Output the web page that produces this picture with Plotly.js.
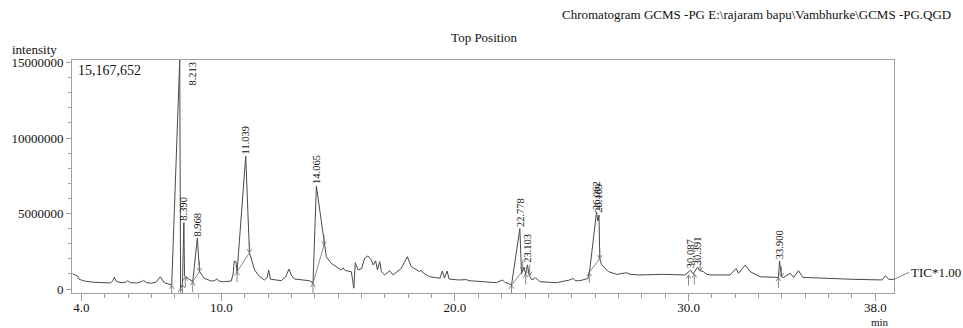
<!DOCTYPE html>
<html>
<head>
<meta charset="utf-8">
<script src="https://cdn.plot.ly/plotly-3.0.1.min.js"></script>
<style>html,body{margin:0;padding:0;background:#fff;}#chart{width:963px;height:328px;}</style>
</head>
<body>
<div id="chart"></div>
<script>
// Retention time (min) and TIC intensity (millions of counts)
var retentionTime = [3.62,3.75,3.84,3.91,4.13,4.5,4.98,5.25,5.35,5.41,5.5,5.7,5.9,5.98,6.1,6.4,6.6,6.66,6.8,6.98,7.2,7.38,7.55,7.87,
  8.213,8.25,8.33,8.39,8.42,8.6,8.77,8.968,9.06,9.27,9.56,9.72,9.8,9.9,10.06,10.42,10.5,10.55,10.62,10.67,11.039,11.2,11.42,11.63,
  11.84,11.96,12.02,12.1,12.56,12.75,12.89,13.0,13.13,13.77,13.92,14.065,14.35,14.49,14.7,14.92,15.13,15.2,15.3,15.56,15.67,15.73,
  15.85,16.0,16.13,16.27,16.42,16.5,16.6,16.68,16.78,16.85,16.99,17.2,17.35,17.7,17.96,18.13,18.49,18.55,18.65,18.92,19.35,19.46,
  19.55,19.66,19.75,20.14,20.5,20.6,21.06,21.78,22.04,22.15,22.28,22.42,22.778,22.85,22.95,23.03,23.103,23.18,23.3,23.45,23.64,
  24.35,24.92,25.06,25.15,25.35,25.7,25.78,26.062,26.115,26.169,26.2,26.28,26.42,26.57,26.93,27.07,27.35,27.5,27.92,28.92,29.85,
  30.087,30.2,30.391,30.5,30.64,30.75,30.93,31.78,32.04,32.14,32.43,32.64,33.07,33.64,33.85,33.9,33.98,34.07,34.36,34.5,34.71,34.9,
  35.64,37.07,38.29,38.43,38.57,38.8];
var intensityM = [1.00,0.92,0.86,0.64,0.53,0.45,0.40,0.40,0.55,0.77,0.50,0.42,0.45,0.55,0.42,0.40,0.50,0.57,0.42,0.38,0.45,0.81,0.42,0.26,
  15.17,0.05,0.30,4.40,0.86,0.65,0.49,3.38,1.15,0.70,0.53,0.55,0.68,0.52,0.48,0.53,1.00,1.85,1.80,1.15,8.80,2.40,1.26,0.82,
  0.60,0.75,1.26,0.65,0.55,0.80,1.32,0.90,0.66,0.55,0.38,6.82,3.46,2.14,1.70,1.48,1.26,1.40,1.22,1.15,0.05,1.74,
  1.26,1.35,2.03,2.19,1.92,1.59,1.87,1.26,1.81,1.15,0.93,1.21,0.93,1.37,2.14,1.48,1.15,1.25,1.05,0.81,0.71,1.19,
  0.72,1.19,0.66,0.60,0.62,0.55,0.48,0.42,0.60,0.42,0.38,0.26,4.00,1.00,1.45,1.00,1.60,0.90,0.60,0.75,0.48,
  0.42,0.60,0.70,0.55,0.55,0.70,1.37,5.10,4.50,4.90,2.00,1.60,1.37,1.15,0.97,1.00,1.08,0.97,0.93,0.97,0.93,
  1.25,1.00,1.45,1.20,1.15,1.00,0.93,0.93,1.37,1.04,1.59,1.15,0.81,0.77,0.77,1.85,0.80,0.77,1.04,0.77,1.21,0.77,
  0.71,0.64,0.60,0.88,0.64,0.64];

// Labelled peaks
var peakTimes = [8.213,8.390,8.968,11.039,14.065,22.778,23.103,26.062,26.169,30.087,30.391,33.900];
var peakLabels = ["8.213","8.390","8.968","11.039","14.065","22.778","23.103","26.062","26.169","30.087","30.391","33.900"];
var peakHeightM = [15.17,4.40,3.38,8.80,6.82,4.00,1.60,5.10,4.90,1.25,1.45,1.85];

// Integration boundaries (time, intensity M, direction: 1 = mark from below, -1 = mark from above)
var boundT = [7.87,8.25,8.33,8.45,8.77,9.06,10.67,11.2,13.92,14.39,22.42,22.9,23.03,23.2,25.75,26.2,30.0,30.25,30.5,33.85,33.98];
var boundV = [0.26,0.05,0.30,0.80,0.49,1.15,1.15,2.40,0.38,2.90,0.26,1.20,1.00,0.90,1.10,2.00,0.93,1.00,1.20,0.77,0.80];
var boundDir = [1,1,1,1,1,-1,1,-1,1,-1,1,-1,1,-1,1,-1,1,1,-1,1,-1];
// Tangent baselines: pairs of boundary indices
var baseStart = [4,6,8,10,14];
var baseEnd = [5,7,9,11,15];

var M = 1e6;
var fontFam = '"Liberation Serif", "Times New Roman", serif';
var labelSize = 10.5;

var traceY = intensityM.map(function(v){return v*M;});

var mx = [], my = [];
for (var i = 0; i < boundT.length; i++) {
  var t = boundT[i], v = boundV[i]*M, d = boundDir[i];
  mx.push(t, t, null, t-0.1, t, t+0.1, null);
  my.push(v, v - d*0.7*M, null, v - d*0.25*M, v, v - d*0.25*M, null);
}
var bx = [], by = [];
for (var j = 0; j < baseStart.length; j++) {
  bx.push(boundT[baseStart[j]], boundT[baseEnd[j]], null);
  by.push(boundV[baseStart[j]]*M, boundV[baseEnd[j]]*M, null);
}

var data = [
  {x: retentionTime, y: traceY, type: 'scatter', mode: 'lines', line: {color: '#4a4a4a', width: 1}, hoverinfo: 'x+y'},
  {x: bx, y: by, type: 'scatter', mode: 'lines', line: {color: '#6a6a6a', width: 0.8}, hoverinfo: 'skip'},
  {x: mx, y: my, type: 'scatter', mode: 'lines', line: {color: '#6a6a6a', width: 0.8}, hoverinfo: 'skip', cliponaxis: false}
];

function labelLen(s) {
  var n = 0;
  for (var c = 0; c < s.length; c++) n += (s[c] === '.') ? 0.25 : 0.5;
  return n * labelSize;
}

var annotations = [];
for (var k = 0; k < peakTimes.length; k++) {
  var atTop = peakHeightM[k] > 14;
  var half = labelLen(peakLabels[k]) / 2;
  annotations.push({
    x: peakTimes[k], y: peakHeightM[k]*M, xref: 'x', yref: 'y',
    text: peakLabels[k], showarrow: false, textangle: -90,
    xanchor: 'center', yanchor: 'middle',
    xshift: atTop ? 13 : 0, yshift: atTop ? -(half + 2) : (half + 2),
    font: {family: fontFam, size: labelSize, color: '#111'}
  });
}
annotations.push(
  {xref: 'paper', yref: 'paper', x: 1.0718, y: 1.197, xanchor: 'right', yanchor: 'middle', showarrow: false,
   text: 'Chromatogram GCMS -PG E:\\rajaram bapu\\Vambhurke\\GCMS -PG.QGD', font: {family: fontFam, size: 13, color: '#111'}},
  {xref: 'paper', yref: 'paper', x: -0.0754, y: 1.043, xanchor: 'left', yanchor: 'middle', showarrow: false,
   text: 'intensity', font: {family: fontFam, size: 13, color: '#111'}},
  {xref: 'paper', yref: 'paper', x: 0.005, y: 0.955, xanchor: 'left', yanchor: 'middle', showarrow: false,
   text: '15,167,652', font: {family: fontFam, size: 14, color: '#111'}},
  {xref: 'paper', yref: 'paper', x: 0.983, y: -0.124, xanchor: 'center', yanchor: 'middle', showarrow: false,
   text: 'min', font: {family: fontFam, size: 11, color: '#111'}},
  {xref: 'x', yref: 'y', x: 38.8, y: 0.64*M, text: 'TIC*1.00', showarrow: true, arrowhead: 0, arrowwidth: 0.8,
   arrowcolor: '#666', ax: 15, ay: -7, xanchor: 'left', yanchor: 'middle', standoff: 0,
   font: {family: fontFam, size: 13, color: '#111'}}
);

var layout = {
  width: 963, height: 328,
  margin: {l: 72, r: 69, t: 60, b: 35, pad: 0},
  paper_bgcolor: '#fff', plot_bgcolor: '#fff',
  showlegend: false,
  font: {family: fontFam, size: 13, color: '#111'},
  title: {text: 'Top Position', x: 0.5013, xref: 'paper', y: 0.887, yref: 'container', xanchor: 'center', yanchor: 'middle',
          font: {family: fontFam, size: 13, color: '#111'}},
  xaxis: {
    range: [3.6, 38.8], showgrid: false, zeroline: false,
    showline: true, linecolor: '#a0a0a0', linewidth: 1, mirror: true,
    tickmode: 'array', tickvals: [4, 10, 20, 30, 38], ticktext: ['4.0', '10.0', '20.0', '30.0', '38.0'],
    ticks: 'outside', ticklen: 7, tickcolor: '#a0a0a0', tickwidth: 1, ticklabelstandoff: -5,
    minor: {tickmode: 'linear', tick0: 0, dtick: 1, ticks: 'outside', ticklen: 4, tickcolor: '#a0a0a0', tickwidth: 1},
    tickfont: {family: fontFam, size: 13, color: '#111'}
  },
  yaxis: {
    range: [-0.265*M, 15.17*M], showgrid: false, zeroline: false,
    showline: true, linecolor: '#a0a0a0', linewidth: 1, mirror: true,
    tickmode: 'array', tickvals: [0, 5*M, 10*M, 15*M], ticktext: ['0', '5000000', '10000000', '15000000'],
    ticks: 'outside', ticklen: 5, tickcolor: '#a0a0a0', tickwidth: 1,
    minor: {tickmode: 'linear', tick0: 0, dtick: M, ticks: 'outside', ticklen: 3, tickcolor: '#a0a0a0', tickwidth: 1},
    tickfont: {family: fontFam, size: 13, color: '#111'}
  },
  annotations: annotations
};

Plotly.newPlot('chart', data, layout, {displayModeBar: false, staticPlot: true});
</script>
</body>
</html>
